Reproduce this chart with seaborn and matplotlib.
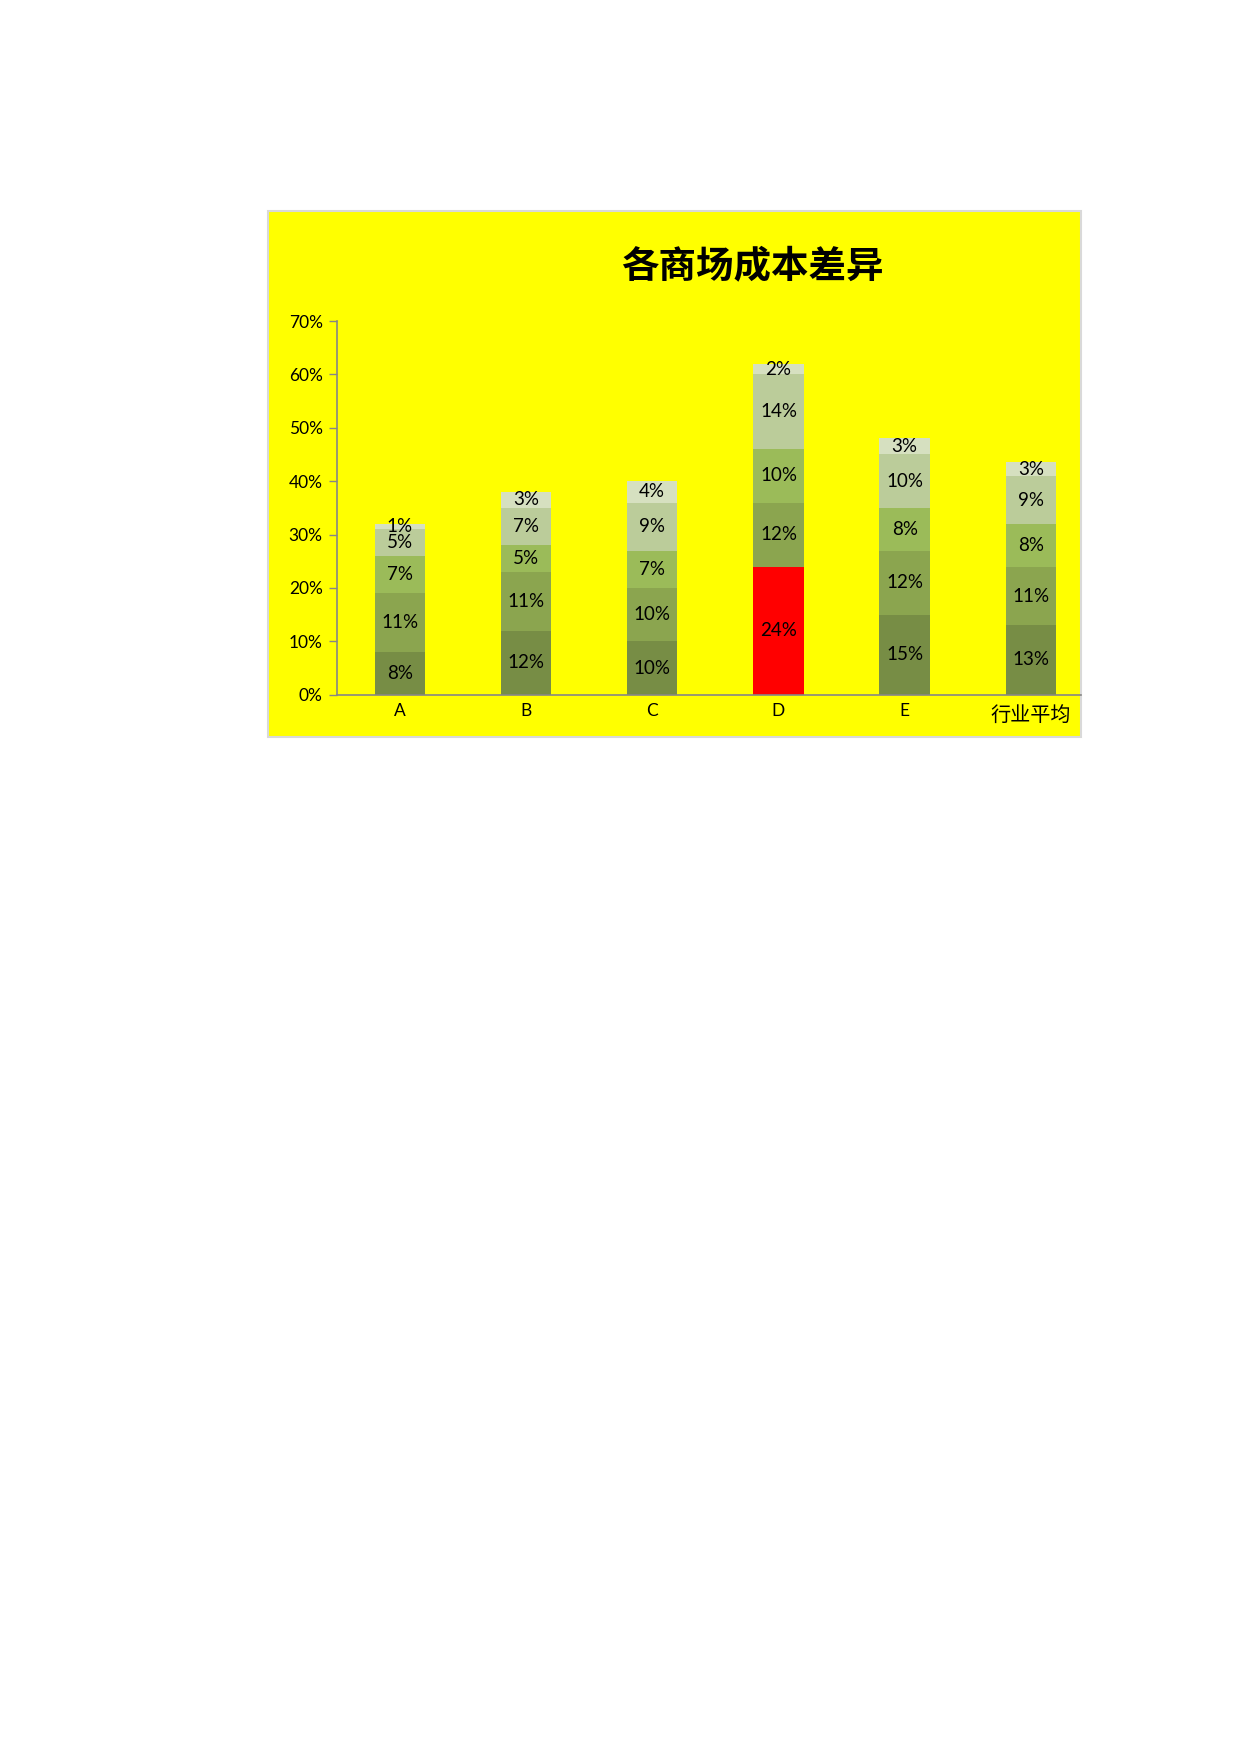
import numpy as np
import pandas as pd
import matplotlib
matplotlib.use('Agg')
import matplotlib.pyplot as plt
from matplotlib.patches import Rectangle
import seaborn as sns

# data
stores = ['A', 'B', 'C', 'D', 'E', '行业平均']
cost1 = [0.08, 0.12, 0.10, 0.24, 0.15, 0.13]
cost2 = [0.11, 0.11, 0.10, 0.12, 0.12, 0.109]
cost3 = [0.07, 0.05, 0.07, 0.10, 0.08, 0.08]
cost4 = [0.05, 0.07, 0.09, 0.14, 0.10, 0.09]
cost5 = [0.01, 0.03, 0.04, 0.02, 0.03, 0.026]
yticks = [0, 0.1, 0.2, 0.3, 0.4, 0.5, 0.6, 0.7]

layers = [cost1, cost2, cost3, cost4, cost5]
layer_colors = ['#778D45', '#8BA54F', '#9BBB59', '#BBCC9A', '#D6E0C0']
highlight = 'D'

sns.set_style('white')
plt.rcParams['font.family'] = ['Lato', 'Noto Sans CJK SC', 'DejaVu Sans']
plt.rcParams['text.color'] = 'black'
plt.rcParams['xtick.labelcolor'] = 'black'
plt.rcParams['ytick.labelcolor'] = 'black'

W, H = 1240, 1754
fig = plt.figure(figsize=(12.4, 17.54), dpi=100)
fig.patch.set_facecolor('white')

# yellow chart area
box_l, box_t, box_r, box_b = 268, 211, 1081, 737
fig.patches.append(Rectangle((box_l / W, 1 - box_b / H), (box_r - box_l) / W,
                             (box_b - box_t) / H, transform=fig.transFigure,
                             facecolor='#FFFF00', edgecolor='#D9D9D9', lw=1.5, zorder=-5))

ax_l, ax_r, ax_top, ax_base = 336.7, 1081, 321, 694.7
ax = fig.add_axes([ax_l / W, 1 - ax_base / H, (ax_r - ax_l) / W, (ax_base - ax_top) / H])
ax.set_facecolor('none')
ax.set_zorder(2)

df = pd.DataFrame({'store': stores})
cum = np.cumsum(np.array(layers), axis=0)

# stacked bars: draw cumulative totals from the top layer down
for k in range(len(layers) - 1, -1, -1):
    df['v'] = cum[k]
    pal = [layer_colors[k]] * len(stores)
    if k == 0:
        pal = ['#FF0000' if s == highlight else layer_colors[0] for s in stores]
    sns.barplot(data=df, x='store', y='v', hue='store', palette=pal, legend=False,
                width=0.4, linewidth=0, saturation=1, ax=ax)

for k in range(len(layers)):
    bottoms = cum[k] - np.array(layers[k])
    for i, v in enumerate(layers[k]):
        ax.text(i, bottoms[i] + v / 2, f"{v * 100:.0f}%", ha='center', va='center',
                fontsize=13.5, color='black')

ax.set_ylim(0, 0.7)
ax.set_xlim(-0.5, 5.5 - 13 / 126.2)
ax.set_yticks(yticks)
ax.set_yticklabels([f"{t * 100:.0f}%" for t in yticks], fontsize=12.5)
ax.set_xticks(range(len(stores)))
ax.set_xticklabels(stores, fontsize=12.5)
ax.set_xlabel('')
ax.set_ylabel('')
ax.tick_params(axis='y', length=6, width=1, color='#868686', pad=4, left=True)
ax.tick_params(axis='x', length=0, pad=6)
# the Chinese category label is set larger in the original
ax.get_xticklabels()[-1].set_fontsize(14.5)
ax.xaxis.get_major_ticks()[-1].set_pad(8)
for s in ['top', 'right']:
    ax.spines[s].set_visible(False)
for s in ['left', 'bottom']:
    ax.spines[s].set_color('#868686')
    ax.spines[s].set_linewidth(1.2)

fig.text(752.8 / W, 1 - 265.7 / H, '各商场成本差异', ha='center', va='center',
         fontsize=27, fontweight='bold', color='black', family=['Noto Sans CJK SC'])

fig.savefig('out.png', dpi=100)
